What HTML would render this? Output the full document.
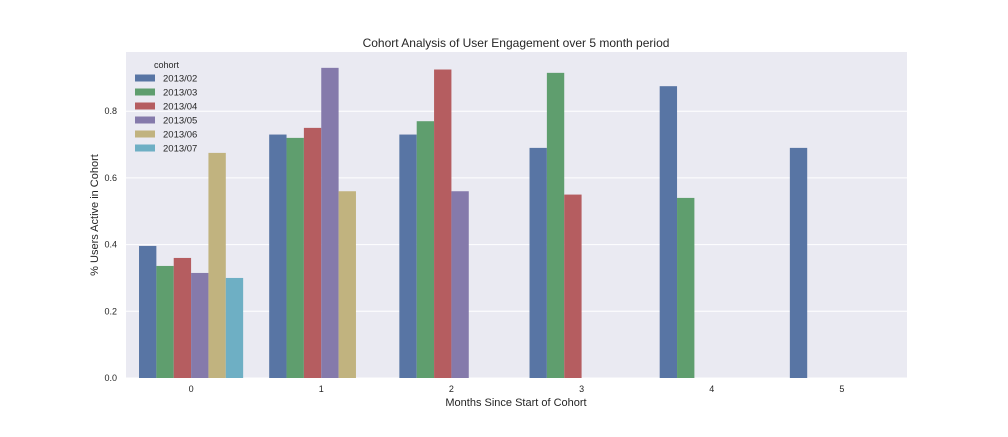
<!DOCTYPE html>
<html><head><meta charset="utf-8"><style>
body{margin:0;background:#fff;font-family:"Liberation Sans","DejaVu Sans",sans-serif}
svg text{font-family:"Liberation Sans","DejaVu Sans",sans-serif;fill:#262626}
</style></head><body>
<svg id="chart" width="1008" height="432" xmlns="http://www.w3.org/2000/svg">
<rect x="126" y="52" width="781" height="326" fill="#eaeaf2"/>
<g id="grid"></g><g id="bars"></g><g id="ticks"></g>
<text x="516" y="47" text-anchor="middle" font-size="12">Cohort Analysis of User Engagement over 5 month period</text>
<text x="516" y="406" text-anchor="middle" font-size="11">Months Since Start of Cohort</text>
<text x="98" y="215" text-anchor="middle" font-size="11" transform="rotate(-90 98 215)">% Users Active in Cohort</text>
<g id="legend">
<text x="154" y="68" font-size="9">cohort</text>
</g>
</svg>
<script>
const categories=["0","1","2","3","4","5"];
const cohorts=["2013/02","2013/03","2013/04","2013/05","2013/06","2013/07"];
const colors=["#5875a4","#5f9e6e","#b55d60","#857aab","#c1b37f","#6eafc4"];
const s0201=[0.396,0.73,0.73,0.69,0.875,0.69];
const s0203=[0.336,0.72,0.77,0.915,0.54,null];
const s0204=[0.36,0.75,0.925,0.55,null,null];
const s0205=[0.315,0.93,0.56,null,null,null];
const s0206=[0.675,0.56,null,null,null,null];
const s0207=[0.30,null,null,null,null,null];
const series=[s0201,s0203,s0204,s0205,s0206,s0207];
const yTicks=[0,0.2,0.4,0.6,0.8];
const yTickLabels=["0.0","0.2","0.4","0.6","0.8"];
const NS="http://www.w3.org/2000/svg";
const X0=126,W=781,Y0=378,PX=333.5;
const y=v=>Y0-v*PX;
const band=W/categories.length, bw=band*0.8/cohorts.length;
const xb=(ci,si)=>X0+ci*band+band*0.1+si*bw;
function mk(t,a,p){const e=document.createElementNS(NS,t);for(const k in a)e.setAttribute(k,a[k]);p.appendChild(e);return e;}
const G=document.getElementById('grid'),B=document.getElementById('bars'),T=document.getElementById('ticks'),L=document.getElementById('legend');
yTicks.forEach((v,i)=>{
 const l=mk('line',{x1:X0,x2:X0+W,y1:y(v),y2:y(v),stroke:'#fff','stroke-width':1},G);
 
 
 const t=mk('text',{x:117,y:y(v)+3,'text-anchor':'end','font-size':9},T);t.textContent=yTickLabels[i];
 
 
});
categories.forEach((c,ci)=>{
 const t=mk('text',{x:X0+ci*band+band/2,y:392,'text-anchor':'middle','font-size':9},T);t.textContent=c;
 
 
 series.forEach((s,si)=>{
  const v=s[ci]; if(v==null)return;
  const r=mk('rect',{x:xb(ci,si),y:y(v),width:bw,height:Y0-y(v),fill:colors[si]},B);
  
  
 });
});
cohorts.forEach((c,i)=>{
 const yy=78+i*14;
 const r=mk('rect',{x:135,y:yy-3.5,width:20,height:7,fill:colors[i]},L);
 
 
 const t=mk('text',{x:163,y:yy+3.5,'font-size':9.5},L);t.textContent=c;
 
 
});
</script>
</body></html>
